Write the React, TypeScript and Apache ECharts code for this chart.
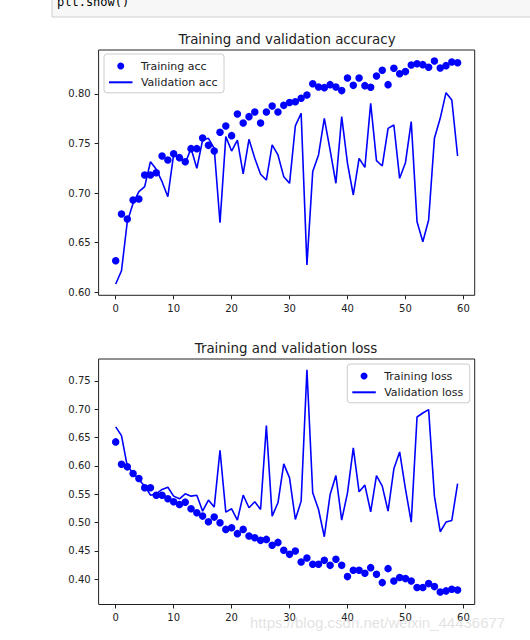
import React, { useEffect, useRef } from "react";
import * as echarts from "echarts";

const xTicks = [0, 10, 20, 30, 40, 50, 60];
const accTicks = [0.6, 0.65, 0.7, 0.75, 0.8];
const lossTicks = [0.4, 0.45, 0.5, 0.55, 0.6, 0.65, 0.7, 0.75];

const trainAcc = [
  0.6316, 0.6788, 0.6737, 0.6929, 0.6939, 0.7182, 0.7182, 0.7205, 0.7374, 0.7333,
  0.7397, 0.7357, 0.7316, 0.7448, 0.7448, 0.7556, 0.7481, 0.7424, 0.7613, 0.7677,
  0.7579, 0.7798, 0.7707, 0.7771, 0.7818, 0.7707, 0.7818, 0.7879, 0.7818, 0.7885,
  0.7914, 0.7922, 0.7956, 0.799, 0.8104, 0.8071, 0.8064, 0.8094, 0.8071, 0.8034,
  0.8162, 0.8087, 0.8162, 0.8084, 0.8067, 0.8182, 0.8239, 0.8094, 0.8259, 0.8205,
  0.8226, 0.8293, 0.8306, 0.8296, 0.8269, 0.8333, 0.8263, 0.8286, 0.8323, 0.8316,
];

const valAcc = [
  0.6081, 0.6215, 0.671, 0.6896, 0.7013, 0.7064, 0.7316, 0.7239, 0.7114, 0.6963,
  0.7391, 0.7357, 0.73, 0.7451, 0.7249, 0.7535, 0.7552, 0.7451, 0.67, 0.7569,
  0.7424, 0.7535, 0.7192, 0.7542, 0.735, 0.7189, 0.7131, 0.7485, 0.7384, 0.7165,
  0.7098, 0.7677, 0.7805, 0.6273, 0.7216, 0.7384, 0.7754, 0.7434, 0.7098, 0.7771,
  0.73, 0.698, 0.735, 0.7259, 0.7906, 0.7327, 0.7273, 0.7653, 0.7687, 0.7148,
  0.7306, 0.7721, 0.671, 0.6508, 0.6727, 0.7552, 0.7754, 0.8013, 0.7939, 0.7374,
];

const trainLoss = [
  0.6424, 0.603, 0.5984, 0.5866, 0.5778, 0.5614, 0.5614, 0.5484, 0.5484, 0.5421,
  0.5367, 0.532, 0.5361, 0.5244, 0.5174, 0.5115, 0.5015, 0.5097, 0.4998, 0.488,
  0.491, 0.4805, 0.488, 0.4763, 0.4734, 0.4687, 0.4704, 0.4599, 0.4651, 0.4511,
  0.444, 0.4499, 0.4305, 0.4376, 0.4264, 0.4264, 0.4334, 0.4246, 0.4352, 0.4246,
  0.4047, 0.4158, 0.4158, 0.4106, 0.4205, 0.4088, 0.3941, 0.4188, 0.3971, 0.403,
  0.4012, 0.3971, 0.3854, 0.3854, 0.3924, 0.3871, 0.3777, 0.3795, 0.3824, 0.3812,
];

const valLoss = [
  0.6689, 0.6535, 0.5995, 0.5878, 0.5761, 0.5643, 0.5484, 0.5508, 0.5585, 0.5625,
  0.5467, 0.542, 0.5508, 0.5467, 0.5484, 0.5203, 0.5397, 0.5274, 0.6277, 0.5185,
  0.5244, 0.5045, 0.5484, 0.5262, 0.5367, 0.5232, 0.6711, 0.5115, 0.535, 0.6037,
  0.579, 0.5056, 0.5379, 0.7697, 0.5526, 0.5232, 0.4751, 0.5496, 0.5831, 0.5045,
  0.5526, 0.6318, 0.5544, 0.5661, 0.5191, 0.5831, 0.5643, 0.5203, 0.5949, 0.6248,
  0.5596, 0.5009, 0.6864, 0.6934, 0.6993, 0.5467, 0.4839, 0.5009, 0.5039, 0.569,
];

const FONT = "DejaVu Sans";
const BLUE = "#0000ff";
const INK = "#222222";

function xAxisFor(gridIndex: number) {
  return {
    type: "value",
    gridIndex,
    min: -2.95,
    max: 61.95,
    axisLine: { show: false, onZero: false },
    splitLine: { show: false },
    axisTick: {
      show: true,
      inside: false,
      length: 4,
      customValues: xTicks,
      lineStyle: { color: "#222", width: 1 },
    },
    axisLabel: {
      customValues: xTicks,
      fontSize: 10,
      fontFamily: FONT,
      color: INK,
      margin: 8,
      formatter: (v: number) => String(Math.round(v)),
    },
  };
}

function yAxisFor(gridIndex: number, min: number, max: number, ticks: number[]) {
  return {
    type: "value",
    gridIndex,
    min,
    max,
    axisLine: { show: false, onZero: false },
    splitLine: { show: false },
    axisTick: {
      show: true,
      inside: false,
      length: 4,
      customValues: ticks,
      lineStyle: { color: "#222", width: 1 },
    },
    axisLabel: {
      customValues: ticks,
      fontSize: 10,
      fontFamily: FONT,
      color: INK,
      margin: 8,
      formatter: (v: number) => v.toFixed(2),
    },
  };
}

function legendAt(left: number, top: number, names: string[]) {
  return {
    left,
    top,
    orient: "vertical",
    selectedMode: false,
    data: [
      { name: names[0], icon: "circle" },
      { name: names[1], itemStyle: { color: "rgba(0,0,0,0)", borderWidth: 0, opacity: 0 } },
    ],
    itemWidth: 23.5,
    itemHeight: 7,
    itemGap: 5.3,
    padding: [6.5, 6.5, 5, 4],
    borderColor: "#cccccc",
    borderWidth: 1,
    borderRadius: 3,
    backgroundColor: "rgba(255,255,255,0.8)",
    textStyle: { fontSize: 11, fontFamily: FONT, color: INK, padding: [0, 0, 0, 3.4] },
  };
}

export default function App() {
  const ref = useRef<HTMLDivElement>(null);

  useEffect(() => {
    if (!ref.current) return;
    const chart = echarts.init(ref.current, undefined, { renderer: "svg" });
    const option: any = {
      animation: false,
      backgroundColor: "#ffffff",
      grid: [
        { left: 98.6, right: 55.3, top: 50, height: 245.3, show: true, borderColor: "#222", borderWidth: 1, backgroundColor: "transparent" },
        { left: 98.6, right: 55.3, top: 359, height: 245.5, show: true, borderColor: "#222", borderWidth: 1, backgroundColor: "transparent" },
      ],
      xAxis: [xAxisFor(0), xAxisFor(1)],
      yAxis: [yAxisFor(0, 0.5967, 0.8444, accTicks), yAxisFor(1, 0.3555, 0.7887, lossTicks)],
      legend: [
        legendAt(104, 54, ["Training acc", "Validation acc"]),
        legendAt(347.3, 364, ["Training loss", "Validation loss"]),
      ],
      series: [
        {
          name: "Training acc",
          type: "scatter",
          xAxisIndex: 0,
          yAxisIndex: 0,
          symbol: "circle",
          symbolSize: 7.5,
          itemStyle: { color: BLUE, opacity: 1 },
          data: trainAcc.map((v, i) => [i, v]),
        },
        {
          name: "Validation acc",
          type: "line",
          xAxisIndex: 0,
          yAxisIndex: 0,
          symbol: "none",
          lineStyle: { color: BLUE, width: 1.6 },
          itemStyle: { color: BLUE },
          data: valAcc.map((v, i) => [i, v]),
        },
        {
          name: "Training loss",
          type: "scatter",
          xAxisIndex: 1,
          yAxisIndex: 1,
          symbol: "circle",
          symbolSize: 7.5,
          itemStyle: { color: BLUE, opacity: 1 },
          data: trainLoss.map((v, i) => [i, v]),
        },
        {
          name: "Validation loss",
          type: "line",
          xAxisIndex: 1,
          yAxisIndex: 1,
          symbol: "none",
          lineStyle: { color: BLUE, width: 1.6 },
          itemStyle: { color: BLUE },
          data: valLoss.map((v, i) => [i, v]),
        },
      ],
      graphic: [
        {
          type: "rect",
          shape: { x: 52, y: -10, width: 500, height: 27 },
          style: { fill: "#f7f7f7", stroke: "#cfcfcf", lineWidth: 1 },
        },
        {
          type: "text",
          x: 57,
          y: 2,
          style: { text: "plt.show()", fontSize: 12, fontFamily: "DejaVu Sans Mono", fill: "#000", verticalAlign: "middle" },
        },
        {
          type: "text",
          x: 287,
          y: 39,
          style: { text: "Training and validation accuracy", fontSize: 13.4, fontFamily: FONT, fill: INK, align: "center", verticalAlign: "middle" },
        },
        {
          type: "text",
          x: 286,
          y: 348,
          style: { text: "Training and validation loss", fontSize: 13.4, fontFamily: FONT, fill: INK, align: "center", verticalAlign: "middle" },
        },
        {
          type: "text",
          x: 250,
          y: 622,
          z: 100,
          style: { text: "https://blog.csdn.net/weixin_44436677", fontSize: 15, fontFamily: "Liberation Sans", fill: "rgba(190,190,190,0.45)", verticalAlign: "middle" },
        },
      ],
    };
    chart.setOption(option);
    return () => chart.dispose();
  }, []);

  return (
    <div
      ref={ref}
      style={{ position: "fixed", left: 0, top: 0, width: 530, height: 640 }}
    />
  );
}
